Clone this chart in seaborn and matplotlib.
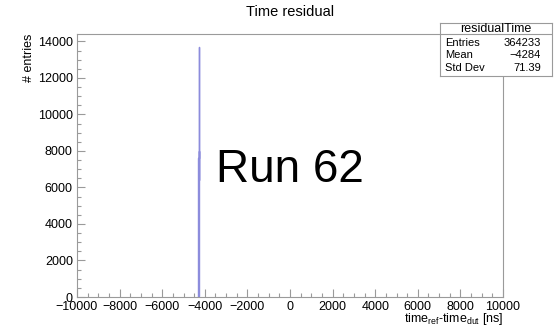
import numpy as np
import pandas as pd
import matplotlib
matplotlib.use("Agg")
import matplotlib.pyplot as plt
from matplotlib.ticker import MultipleLocator
import seaborn as sns

# Histogram of time residuals, 1 ns bins around the peak
bin_start = -4306
bin_width = 1
counts = [20, 150, 600, 1500, 2900, 4300, 5600, 6300, 6900, 7300,
          7600, 7800, 8000, 7500, 7100, 6700, 6400, 6900, 7700, 8600,
          9800, 11200, 12400, 13200, 13600, 13720, 13450, 13000, 12300, 11400,
          10300, 9100, 8200, 7800, 7400, 7000, 6600, 6200, 5900, 5700,
          5400, 5000, 4400, 3600, 2700, 1800, 1000, 450, 150, 40]

stats_labels = ["Entries", "Mean", "Std Dev"]
stats_values = ["364233", "\u22124284", "71.39"]
hist_name = "residualTime"
title = "Time residual"
run_label = "Run 62"
x_ticks = [-10000, -8000, -6000, -4000, -2000, 0, 2000, 4000, 6000, 8000, 10000]
y_ticks = [0, 2000, 4000, 6000, 8000, 10000, 12000, 14000]

edges = bin_start + bin_width * np.arange(len(counts) + 1)
centers = 0.5 * (edges[:-1] + edges[1:])
df = pd.DataFrame({"time": centers, "n": counts})

sns.set_style("white")
plt.rcParams["font.family"] = ["Liberation Sans", "DejaVu Sans"]
plt.rcParams["mathtext.fontset"] = "custom"
plt.rcParams["mathtext.rm"] = "Liberation Sans"
plt.rcParams["mathtext.it"] = "Liberation Sans"
plt.rcParams["axes.unicode_minus"] = True
plt.rcParams["text.color"] = "black"

W, H = 555, 327
fig = plt.figure(figsize=(W / 100, H / 100), dpi=100)
fig.patch.set_facecolor("white")

left, right, top, bottom = 77, 503, 34, 297
ax = fig.add_axes([left / W, 1 - bottom / H, (right - left) / W, (bottom - top) / H])

sns.histplot(data=df, x="time", weights="n", binwidth=bin_width,
             binrange=(float(edges[0]), float(edges[-1])), element="step",
             fill=False, color="#8c8cdc", linewidth=1.0, ax=ax)

ax.set_xlim(-10000, 10000)
ax.set_ylim(0, 1.05 * max(counts))
ax.set_xticks(x_ticks)
ax.set_yticks(y_ticks)
ax.xaxis.set_minor_locator(MultipleLocator(500))
ax.yaxis.set_minor_locator(MultipleLocator(500))
ax.set_xlabel("")
ax.set_ylabel("")

frame_col = "#9a9a9a"
for s in ax.spines.values():
    s.set_visible(True)
    s.set_color(frame_col)
    s.set_linewidth(0.8)

ax.tick_params(axis="both", which="both", direction="in", color=frame_col,
               width=0.8, labelsize=9, labelcolor="black",
               bottom=True, left=True, top=False, right=False)
ax.tick_params(axis="x", which="major", length=5.8, pad=3)
ax.tick_params(axis="y", which="major", length=5.8, pad=3)
ax.tick_params(axis="both", which="minor", length=2.9)

# Title
fig.text((left + right) / 2 / W, 1 - 12 / H, title, ha="center", va="center",
         fontsize=10.5, color="black")

# Axis titles
fig.text(right / W, 1 - 319 / H,
         r"time$_{\mathrm{ref}}$-time$_{\mathrm{dut}}$ [ns]",
         ha="right", va="center", fontsize=9, color="black")
fig.text(29 / W, 1 - top / H, "# entries", rotation=90, ha="center",
         va="top", fontsize=9, color="black")

# Run label
ax.text(0.5, 1 - (170 - top) / (bottom - top), run_label, transform=ax.transAxes,
        ha="center", va="center", fontsize=33, color="black")

# Statistics box
bx0, bx1, by0, by1, bsep = 440, 552, 23, 76, 34
box_ax = fig.add_axes([bx0 / W, 1 - by1 / H, (bx1 - bx0) / W, (by1 - by0) / H])
box_ax.set_xlim(bx0, bx1)
box_ax.set_ylim(by1, by0)
box_ax.set_xticks([])
box_ax.set_yticks([])
box_ax.set_facecolor("white")
for s in box_ax.spines.values():
    s.set_visible(True)
    s.set_color(frame_col)
    s.set_linewidth(0.8)
box_ax.axhline(bsep, color=frame_col, linewidth=0.8)
box_ax.text((bx0 + bx1) / 2, 29, hist_name, ha="center", va="center",
            fontsize=9, color="black")
for i, (lab, val) in enumerate(zip(stats_labels, stats_values)):
    yy = 43 + i * 12.5
    box_ax.text(445, yy, lab, ha="left", va="center", fontsize=8, color="black")
    box_ax.text(541, yy, val, ha="right", va="center", fontsize=8, color="black")

fig.savefig("out.png", dpi=100, facecolor="white")
